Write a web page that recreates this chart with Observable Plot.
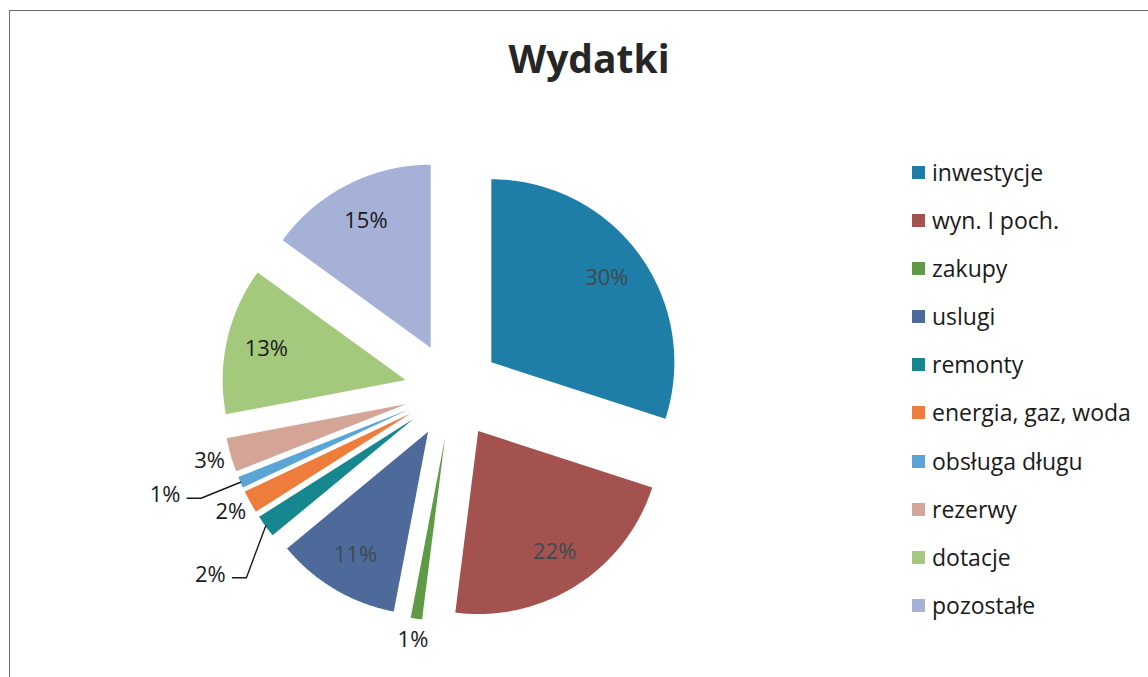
<!DOCTYPE html>
<html>
<head>
<meta charset="utf-8">
<script src="https://cdn.jsdelivr.net/npm/d3@7"></script>
<script src="https://cdn.jsdelivr.net/npm/@observablehq/plot@0.6"></script>
<style>
  html, body { margin: 0; padding: 0; background: #fff; }
  #wrap { position: relative; width: 1148px; height: 677px; overflow: hidden; font-family: "Open Sans", sans-serif; }
  #frame { position: absolute; left: 9px; top: 10px; right: -10px; bottom: -10px;
           border-left: 1.5px solid #6a6a6a; border-top: 1.5px solid #6a6a6a; }
  #title { position: absolute; left: 389px; width: 400px; top: 38px; line-height: 40px;
           text-align: center; font-size: 39px; font-weight: 700; color: #262626; }
  #chart { position: absolute; left: 0; top: 100px; }
  #legend { position: absolute; left: 912px; top: 0; }
  .lg { position: absolute; left: 0; height: 24px; display: flex; align-items: center; white-space: nowrap;
        font-size: 23px; color: #1a1a1a; }
  .sw { width: 13px; height: 13px; margin-right: 7px; flex: none; }
</style>
</head>
<body>
<div id="wrap">
  <div id="frame"></div>
  <div id="title">Wydatki</div>
  <div id="chart"></div>
  <div id="legend"></div>
</div>
<script>
// ---- data ----
const categories = ["inwestycje", "wyn. I poch.", "zakupy", "uslugi", "remonty",
  "energia, gaz, woda", "obsługa długu", "rezerwy", "dotacje", "pozostałe"];
const shares = [30, 22, 1, 11, 2, 2, 1, 3, 13, 15];
const percentLabels = ["30%", "22%", "1%", "11%", "2%", "2%", "1%", "3%", "13%", "15%"];
const colors = ["#1f7ea8", "#a3524f", "#5f9a45", "#4d6a9b", "#16878f",
  "#ee7d3c", "#5aa4d6", "#d4a596", "#a4c97c", "#a5b1d6"];

// ---- layout (not data) ----
const W = 1148, H = 577;
const cx = 452, cy = 290, R = 183;     // pie centre & radius in px
const explode = 48 / 183;              // point explosion, in radius units
const insideR = 0.78;                  // inside label distance from slice tip
const outsideR = 1.12;                 // outside label distance from slice tip
const leaderLabels = { "obsługa długu": { r: 1.41, da: 4 }, "remonty": { r: 1.40, da: -1.5 } };
const darkLabelCats = new Set(["inwestycje", "wyn. I poch.", "uslugi"]);

const rows = categories.map((c, i) => ({ cat: c, value: shares[i], label: percentLabels[i] }));
const arcs = d3.pie().sort(null).value(d => d.value)(rows);

const polys = [];
const labelsIn = [], labelsOut = [], leaders = [];
for (const a of arcs) {
  const m = (a.startAngle + a.endAngle) / 2;
  const tx = explode * Math.sin(m), ty = explode * Math.cos(m);
  polys.push({ cat: a.data.cat, x: tx, y: ty });
  const n = Math.max(4, Math.ceil((a.endAngle - a.startAngle) / (Math.PI / 360)));
  for (let k = 0; k <= n; k++) {
    const t = a.startAngle + (a.endAngle - a.startAngle) * k / n;
    polys.push({ cat: a.data.cat, x: tx + Math.sin(t), y: ty + Math.cos(t) });
  }
  polys.push({ cat: a.data.cat, x: tx, y: ty });

  const cat = a.data.cat;
  if (a.data.value >= 10) {
    labelsIn.push({ cat, text: a.data.label, dark: darkLabelCats.has(cat),
      x: tx + insideR * Math.sin(m), y: ty + insideR * Math.cos(m) });
  } else if (leaderLabels[cat]) {
    const L = leaderLabels[cat];
    const mm = m + L.da * Math.PI / 180;
    const lx = tx + L.r * Math.sin(mm), ly = ty + L.r * Math.cos(mm);
    labelsOut.push({ cat, text: a.data.label, x: lx, y: ly });
    const sx = lx + 22 / R, sy = ly - 3 / R;
    leaders.push({ cat, x: sx, y: sy });
    leaders.push({ cat, x: sx + 14 / R, y: sy });
    leaders.push({ cat, x: tx + 1.0 * Math.sin(m), y: ty + 1.0 * Math.cos(m) });
  } else {
    labelsOut.push({ cat, text: a.data.label,
      x: tx + outsideR * Math.sin(m), y: ty + outsideR * Math.cos(m) });
  }
}

const plot = Plot.plot({
  width: W, height: H,
  margin: 0,
  style: { fontFamily: "Open Sans, sans-serif", background: "transparent" },
  x: { domain: [-1, 1], range: [cx - R, cx + R], axis: null },
  y: { domain: [-1, 1], range: [cy + R, cy - R], axis: null },
  color: { domain: categories, range: colors },
  marks: [
    Plot.line(polys, { x: "x", y: "y", z: "cat", fill: "cat", stroke: "none", curve: "linear" }),
    Plot.line(leaders, { x: "x", y: "y", z: "cat", stroke: "#1a1a1a", strokeWidth: 1.4 }),
    Plot.text(labelsIn.filter(d => d.dark), { x: "x", y: "y", text: "text", fill: "#3f4a4f", fontSize: 22 }),
    Plot.text(labelsIn.filter(d => !d.dark), { x: "x", y: "y", text: "text", fill: "#1a1a1a", fontSize: 22 }),
    Plot.text(labelsOut, { x: "x", y: "y", text: "text", fill: "#1a1a1a", fontSize: 22 })
  ]
});
document.getElementById("chart").appendChild(plot);

// legend
const legendY = [172, 220, 268, 316, 364, 412, 461, 509, 557, 605];
const lg = document.getElementById("legend");
categories.forEach((c, i) => {
  const row = document.createElement("div");
  row.className = "lg";
  row.style.top = (legendY[i] - 12) + "px";
  const sw = document.createElement("span");
  sw.className = "sw";
  sw.style.background = colors[i];
  const tx = document.createElement("span");
  tx.textContent = c;
  row.appendChild(sw); row.appendChild(tx);
  lg.appendChild(row);
});
</script>
</body>
</html>
